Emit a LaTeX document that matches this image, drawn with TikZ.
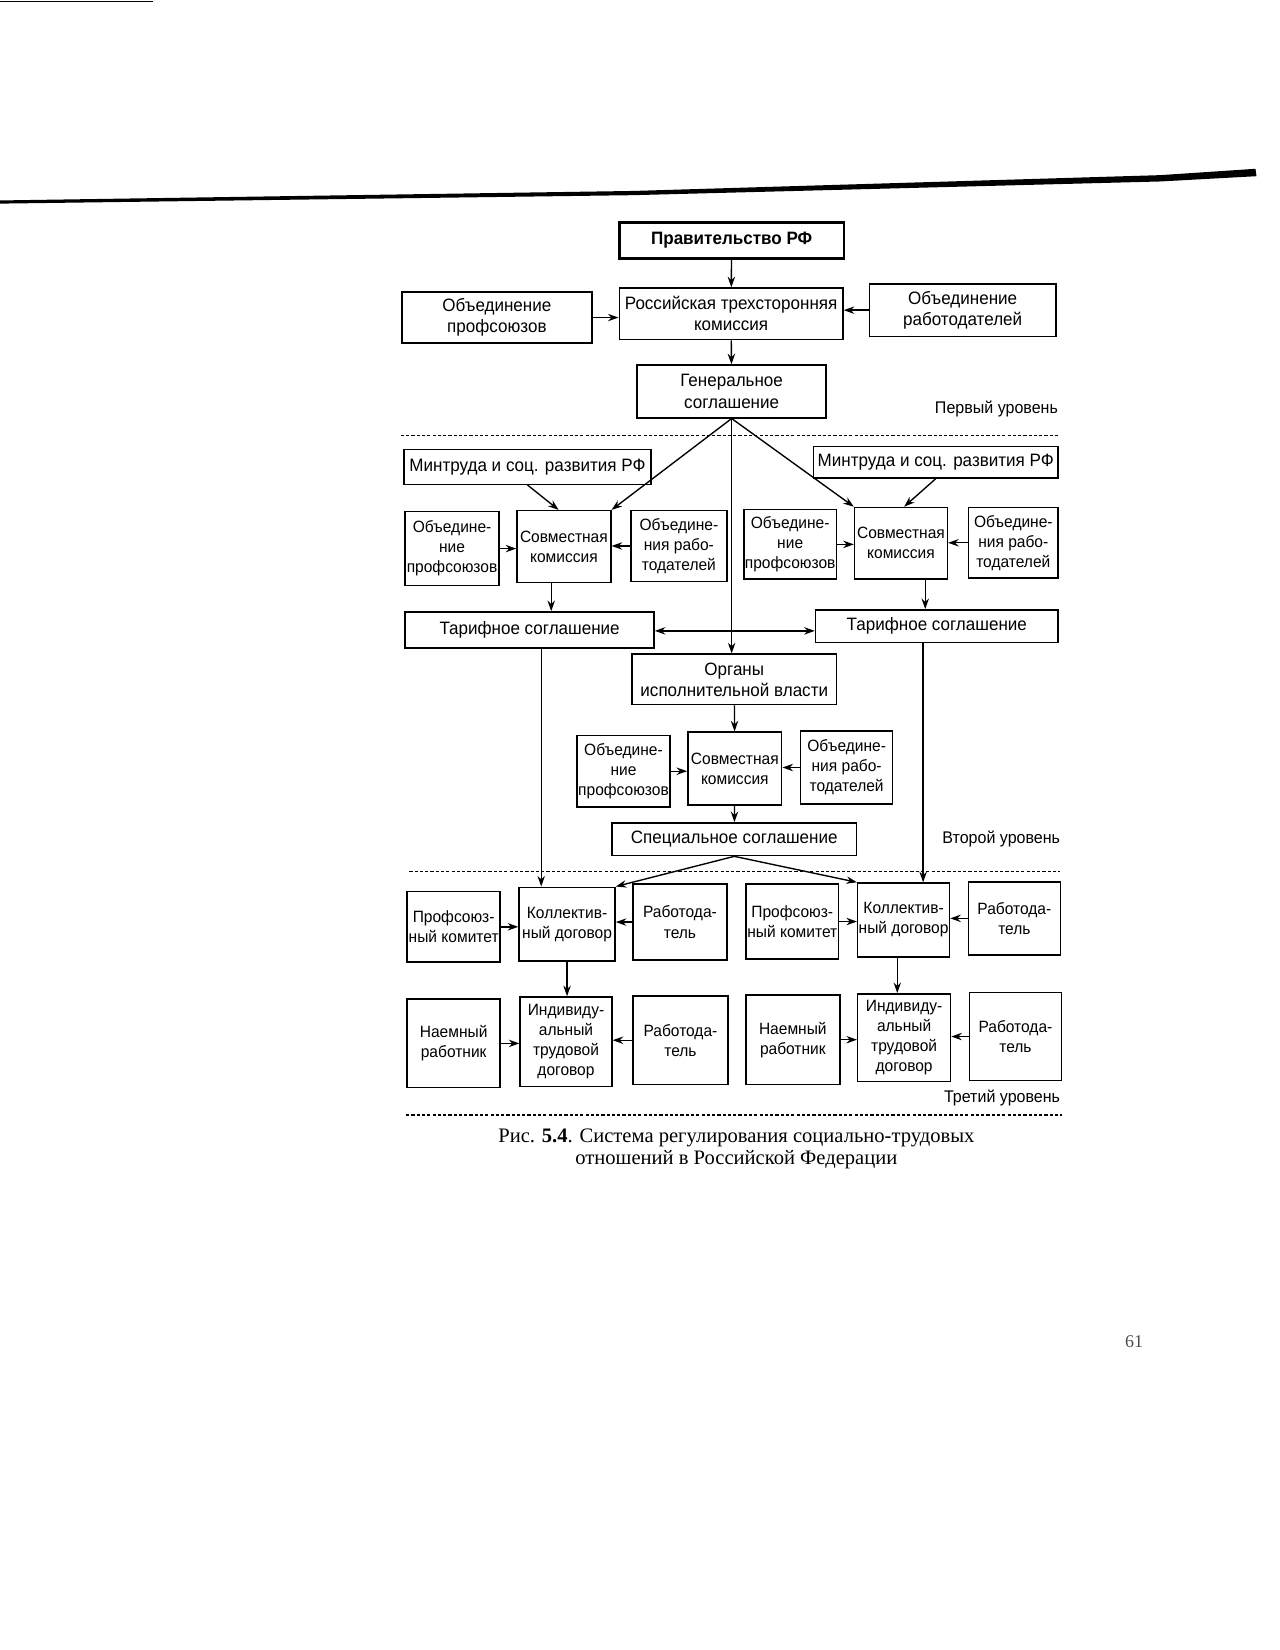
\documentclass[tikz,border=0pt]{standalone}
\usepackage{fontspec}
\setmainfont[FakeStretch=0.95]{Liberation Sans}
\newfontfamily\capfont{Liberation Serif}
\usetikzlibrary{arrows.meta}
\begin{document}
\begin{tikzpicture}[x=1pt,y=-1pt,
 box/.style={draw, line width=1.4pt, inner sep=0pt, align=center, font=\fontsize{17}{20}\selectfont},
 sbox/.style={box, font=\fontsize{15.5}{19}\selectfont},
 arr/.style={-{Stealth[length=10pt,width=7pt]}, line width=1.3pt},
 darr/.style={{Stealth[length=10pt,width=7pt]}-{Stealth[length=10pt,width=7pt]}, line width=1.3pt},
 dots/.style={line width=1.3pt, dash pattern=on 3pt off 2pt},
 lvl/.style={anchor=east, inner sep=0pt, font=\fontsize{16}{18}\selectfont}]
\fill[white] (0,0) rectangle (1213,1564);
\useasboundingbox (0,0) rectangle (1213,1564);
% scan artefacts
\fill (0,190) -- (600,181) -- (1100,166) -- (1190,160) -- (1191,167) -- (1100,172) -- (600,185) -- (0,193) -- cycle;
\draw[line width=1pt] (0,1) -- (145,1);
\node[font=\capfont\fontsize{17}{19}\selectfont, text=black!70] (pg) at (1075,1272) {61};
% level 1
\node[box, line width=2.6pt, minimum width=213pt, minimum height=34pt] (prav) at (693.5,228) {\textbf{Правительство РФ}};
\node[box, minimum width=180pt, minimum height=48pt] (op0) at (471,301) {Объединение\\профсоюзов};
\node[box, minimum width=212pt, minimum height=49pt] (rtk) at (693,297.5) {Российская трехсторонняя\\комиссия};
\node[box, minimum width=177pt, minimum height=50pt] (or0) at (912.5,294) {Объединение\\работодателей};
\node[box, minimum width=179pt, minimum height=50pt] (gs) at (693.5,371) {Генеральное\\соглашение};
\node[lvl] (l1) at (1003,388) {Первый уровень};
\draw[dots] (380,413) -- (1003,413);
% level 2
\node[box, minimum width=234pt, minimum height=33pt] (mtL) at (500,442.5) {Минтруда и соц. развития РФ};
\node[box, minimum width=232pt, minimum height=30pt] (mtR) at (887,438) {Минтруда и соц. развития РФ};
\node[sbox, minimum width=89pt, minimum height=70pt] (op1) at (428.5,520) {Объедине-\\ние\\профсоюзов};
\node[sbox, minimum width=89pt, minimum height=68pt] (sk1) at (534.5,518) {Совместная\\комиссия};
\node[sbox, minimum width=91pt, minimum height=67pt] (or1) at (643.5,517.5) {Объедине-\\ния рабо-\\тодателей};
\node[sbox, minimum width=88pt, minimum height=66pt] (op2) at (749,516) {Объедине-\\ние\\профсоюзов};
\node[sbox, minimum width=88pt, minimum height=68pt] (sk2) at (854,515) {Совместная\\комиссия};
\node[sbox, minimum width=85pt, minimum height=67pt] (or2) at (960.5,514.5) {Объедине-\\ния рабо-\\тодателей};
\node[box, minimum width=236pt, minimum height=34pt] (tsL) at (502,597) {Тарифное соглашение};
\node[box, minimum width=230pt, minimum height=31pt] (tsR) at (888,593.5) {Тарифное соглашение};
\node[box, minimum width=194pt, minimum height=48pt] (org) at (696,644) {Органы\\исполнительной власти};
\node[sbox, minimum width=88pt, minimum height=68pt] (op3) at (591,731) {Объедине-\\ние\\профсоюзов};
\node[sbox, minimum width=89pt, minimum height=69pt] (sk3) at (696.5,728.5) {Совместная\\комиссия};
\node[sbox, minimum width=87pt, minimum height=69pt] (or3) at (802.5,727.5) {Объедине-\\ния рабо-\\тодателей};
\node[box, minimum width=232pt, minimum height=31pt] (sps) at (696,795.5) {Специальное соглашение};
\node[lvl] (l2) at (1005,795) {Второй уровень};
\draw[dots] (388,826) -- (1005,826);
% level 3
\node[sbox, minimum width=88pt, minimum height=67pt] (pk1) at (430,878.5) {Профсоюз-\\ный комитет};
\node[sbox, minimum width=91pt, minimum height=70pt] (kd1) at (537.5,876) {Коллектив-\\ный договор};
\node[sbox, minimum width=89pt, minimum height=72pt] (r1) at (644.5,874) {Работода-\\тель};
\node[sbox, minimum width=88pt, minimum height=71pt] (pk2) at (751,873.5) {Профсоюз-\\ный комитет};
\node[sbox, minimum width=87pt, minimum height=70pt] (kd2) at (856.5,872) {Коллектив-\\ный договор};
\node[sbox, minimum width=87pt, minimum height=69pt] (r2) at (961.5,870.5) {Работода-\\тель};
\node[sbox, minimum width=88pt, minimum height=84pt] (nr1) at (430,989) {Наемный\\работник};
\node[sbox, minimum width=87pt, minimum height=85pt] (itd1) at (536.5,987.5) {Индивиду-\\альный\\трудовой\\договор};
\node[sbox, minimum width=90pt, minimum height=84pt] (r3) at (645,986) {Работода-\\тель};
\node[sbox, minimum width=89pt, minimum height=85pt] (nr2) at (751.5,985.5) {Наемный\\работник};
\node[sbox, minimum width=88pt, minimum height=83pt] (itd2) at (857,983.5) {Индивиду-\\альный\\трудовой\\договор};
\node[sbox, minimum width=87pt, minimum height=83pt] (r4) at (962.5,982.5) {Работода-\\тель};
\node[lvl] (l3) at (1005,1041) {Третий уровень};
\draw[dots] (385,1057) -- (1007,1057);
% caption
\node[font=\capfont\fontsize{19.5}{20}\selectfont, align=center] (cap) at (698,1089) {Рис. \textbf{5.4}. Система регулирования социально-трудовых\\отношений в Российской Федерации};
% connectors
\draw[arr] (prav) -- (rtk);
\draw[arr] (op0.east) -- (op0.east -| rtk.west);
\draw[arr] (or0.west) -- (or0.west -| rtk.east);
\draw[arr] (rtk) -- (gs);
\draw[arr] (gs.south) -- (sk1.north east);
\draw[arr] (gs.south) -- (sk2.north west);
\draw[arr] (gs.south) -- (gs.south |- org.north);
\draw[arr] (mtL.south) -- ([xshift=-5pt]sk1.north);
\draw[arr] (mtR.south) -- ([xshift=3pt]sk2.north);
\draw[arr] (op1.east) -- (op1.east -| sk1.west);
\draw[arr] (or1.west) -- (or1.west -| sk1.east);
\draw[arr] (op2.east) -- (op2.east -| sk2.west);
\draw[arr] (or2.west) -- (or2.west -| sk2.east);
\draw[arr] ([xshift=-12pt]sk1.south) -- ([xshift=-12pt]sk1.south |- tsL.north);
\draw[arr] ([xshift=23pt]sk2.south) -- ([xshift=23pt]sk2.south |- tsR.north);
\draw[darr] ([yshift=-1pt]tsL.east) -- ([yshift=-1pt]tsL.east -| tsR.west);
\draw[arr] ([xshift=11pt]tsL.south) -- ([xshift=11pt]tsL.south |- kd1.north);
\draw[arr] ([xshift=-13pt]tsR.south) -- ([xshift=-13pt]tsR.south |- kd2.north);
\draw[arr] (org) -- (sk3);
\draw[arr] (op3.east) -- (op3.east -| sk3.west);
\draw[arr] (or3.west) -- (or3.west -| sk3.east);
\draw[arr] (sk3) -- (sps);
\draw[arr] (sps.south) -- (kd1.north east);
\draw[arr] (sps.south) -- (kd2.north west);
\draw[arr] (pk1.east) -- (pk1.east -| kd1.west);
\draw[arr] (r1.west) -- (r1.west -| kd1.east);
\draw[arr] (pk2.east) -- (pk2.east -| kd2.west);
\draw[arr] (r2.west) -- (r2.west -| kd2.east);
\draw[arr] (kd1.south) -- (kd1.south |- itd1.north);
\draw[arr] ([xshift=-6pt]kd2.south) -- ([xshift=-6pt]kd2.south |- itd2.north);
\draw[arr] (nr1.east) -- (nr1.east -| itd1.west);
\draw[arr] (r3.west) -- (r3.west -| itd1.east);
\draw[arr] (nr2.east) -- (nr2.east -| itd2.west);
\draw[arr] (r4.west) -- (r4.west -| itd2.east);
\end{tikzpicture}
\end{document}
